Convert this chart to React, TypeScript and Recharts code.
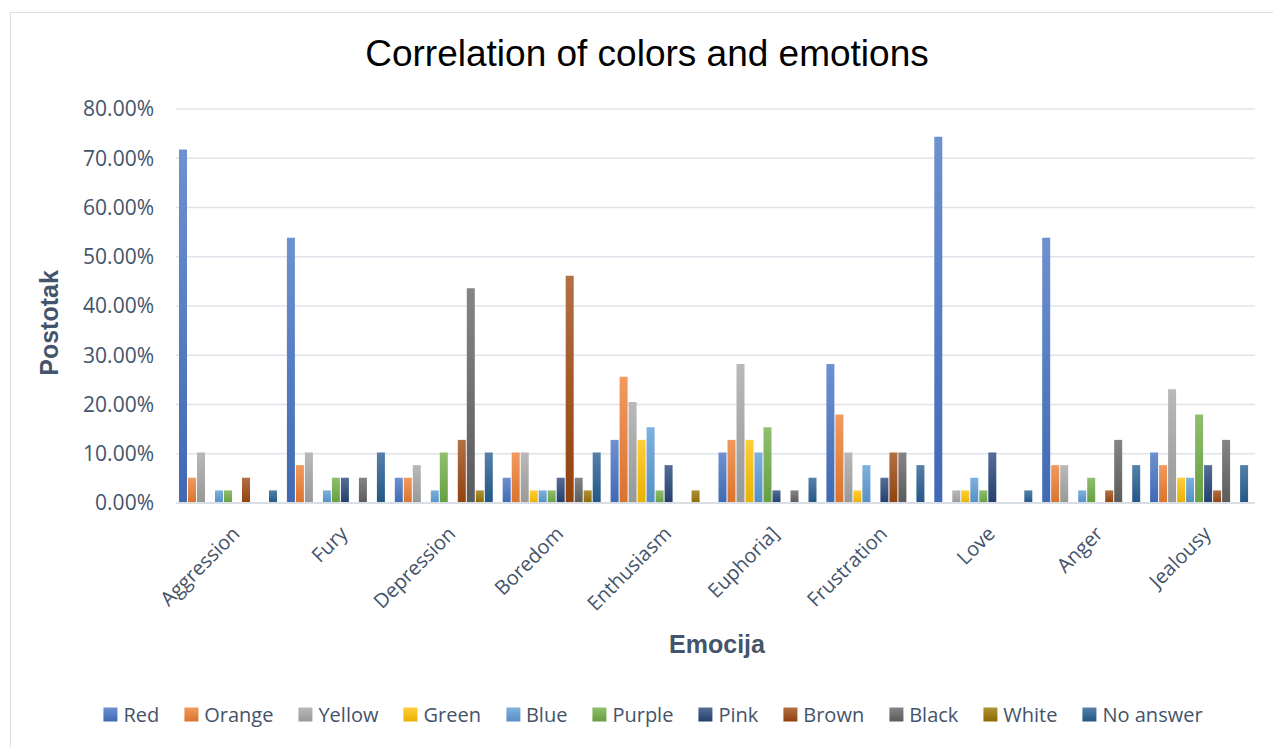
import React from 'react';
import { BarChart, Bar, XAxis, YAxis, CartesianGrid } from 'recharts';

const categories = [
  'Aggression',
  'Fury',
  'Depression',
  'Boredom',
  'Enthusiasm',
  'Euphoria]',
  'Frustration',
  'Love',
  'Anger',
  'Jealousy',
];

const red = [71.79, 53.85, 5.13, 5.13, 12.82, 10.26, 28.21, 74.36, 53.85, 10.26];
const orange = [5.13, 7.69, 5.13, 10.26, 25.64, 12.82, 17.95, 0, 7.69, 7.69];
const yellow = [10.26, 10.26, 7.69, 10.26, 20.51, 28.21, 10.26, 2.56, 7.69, 23.08];
const green = [0, 0, 0, 2.56, 12.82, 12.82, 2.56, 2.56, 0, 5.13];
const blue = [2.56, 2.56, 2.56, 2.56, 15.38, 10.26, 7.69, 5.13, 2.56, 5.13];
const purple = [2.56, 5.13, 10.26, 2.56, 2.56, 15.38, 0, 2.56, 5.13, 17.95];
const pink = [0, 5.13, 0, 5.13, 7.69, 2.56, 5.13, 10.26, 0, 7.69];
const brown = [5.13, 0, 12.82, 46.15, 0, 0, 10.26, 0, 2.56, 2.56];
const black = [0, 5.13, 43.59, 5.13, 0, 2.56, 10.26, 0, 12.82, 12.82];
const white = [0, 0, 2.56, 2.56, 2.56, 0, 0, 0, 0, 0];
const noAnswer = [2.56, 10.26, 10.26, 10.26, 0, 5.13, 7.69, 2.56, 7.69, 7.69];

const yTicks = [0, 10, 20, 30, 40, 50, 60, 70, 80];

const series = [
  { key: 'red', name: 'Red', values: red, color: '#4472C4' },
  { key: 'orange', name: 'Orange', values: orange, color: '#ED7D31' },
  { key: 'yellow', name: 'Yellow', values: yellow, color: '#A5A5A5' },
  { key: 'green', name: 'Green', values: green, color: '#FFC000' },
  { key: 'blue', name: 'Blue', values: blue, color: '#5B9BD5' },
  { key: 'purple', name: 'Purple', values: purple, color: '#70AD47' },
  { key: 'pink', name: 'Pink', values: pink, color: '#264478' },
  { key: 'brown', name: 'Brown', values: brown, color: '#9E480E' },
  { key: 'black', name: 'Black', values: black, color: '#636363' },
  { key: 'white', name: 'White', values: white, color: '#997300' },
  { key: 'noAnswer', name: 'No answer', values: noAnswer, color: '#255E91' },
];

const data = categories.map((name, i) => {
  const row: any = { name };
  series.forEach((s) => {
    row[s.key] = s.values[i];
  });
  return row;
});

// lighten / darken a hex colour
const mix = (hex: string, amt: number) => {
  const n = parseInt(hex.slice(1), 16);
  const ch = [(n >> 16) & 255, (n >> 8) & 255, n & 255].map((c) =>
    Math.round(amt >= 0 ? c + (255 - c) * amt : c * (1 + amt))
  );
  return `rgb(${ch.join(',')})`;
};

const TEXT = '#44546A';
const W = 1273;
const H = 747;
const PLOT_LEFT = 176;

const YTick = ({ y, payload }: any) => (
  <text
    x={PLOT_LEFT - 22}
    y={y}
    dy="0.35em"
    textAnchor="end"
    fill={TEXT}
    fontSize={21}
    fontFamily="'Open Sans', sans-serif"
  >
    {`${Number(payload.value).toFixed(2)}%`}
  </text>
);

const XTick = ({ x, y, payload }: any) => (
  <g transform={`translate(${x + 11},${y + 32})`}>
    <text
      x={0}
      y={0}
      textAnchor="end"
      transform="rotate(-45)"
      fill={TEXT}
      fontSize={20}
      fontFamily="'Open Sans', sans-serif"
    >
      {payload.value}
    </text>
  </g>
);

export default function App() {
  return (
    <div
      style={{
        position: 'absolute',
        left: 0,
        top: 0,
        width: W,
        height: H,
        overflow: 'hidden',
        background: '#fff',
      }}
    >
      <div
        style={{
          position: 'absolute',
          left: 10,
          top: 12,
          width: 1400,
          height: 900,
          border: '1.5px solid #D9DEE7',
        }}
      />
      <div style={{ position: 'absolute', left: 0, top: 0 }}>
        <BarChart
          width={W}
          height={H}
          data={data}
          margin={{ top: 109, right: 18, bottom: 124, left: 106 }}
          barCategoryGap={3}
          barGap={1}
        >
          <defs>
            {series.map((s) => (
              <linearGradient key={s.key} id={`g-${s.key}`} x1="0" y1="0" x2="0" y2="1">
                <stop offset="0%" stopColor={mix(s.color, 0.22)} />
                <stop offset="100%" stopColor={mix(s.color, -0.08)} />
              </linearGradient>
            ))}
          </defs>
          <CartesianGrid vertical={false} stroke="#E0E4EA" strokeWidth={1.5} />
          <XAxis
            dataKey="name"
            height={120}
            interval={0}
            tickLine={false}
            tickSize={0}
            tickMargin={0}
            axisLine={{ stroke: '#D9DDE4', strokeWidth: 2 }}
            tick={<XTick />}
          />
          <YAxis
            width={70}
            domain={[0, 80]}
            ticks={yTicks}
            axisLine={false}
            tickLine={false}
            tick={<YTick />}
          />
          {series.map((s) => (
            <Bar
              key={s.key}
              dataKey={s.key}
              name={s.name}
              fill={`url(#g-${s.key})`}
              isAnimationActive={false}
            />
          ))}
        </BarChart>
      </div>
      <div
        style={{
          position: 'absolute',
          left: 0,
          width: 1294,
          top: 33,
          textAlign: 'center',
          fontFamily: "'Liberation Sans', Arial, sans-serif",
          fontSize: 37,
          color: '#000',
          lineHeight: '42px',
        }}
      >
        Correlation of colors and emotions
      </div>
      <div
        style={{
          position: 'absolute',
          left: 49,
          top: 323,
          transform: 'translate(-50%, -50%) rotate(-90deg)',
          fontFamily: "'Liberation Sans', Arial, sans-serif",
          fontWeight: 'bold',
          fontSize: 25,
          color: TEXT,
          whiteSpace: 'nowrap',
        }}
      >
        Postotak
      </div>
      <div
        style={{
          position: 'absolute',
          left: 717,
          top: 644,
          transform: 'translate(-50%, -50%)',
          fontFamily: "'Liberation Sans', Arial, sans-serif",
          fontWeight: 'bold',
          fontSize: 25,
          color: TEXT,
          whiteSpace: 'nowrap',
        }}
      >
        Emocija
      </div>
      <div
        style={{
          position: 'absolute',
          left: 653,
          top: 714,
          transform: 'translate(-50%, -50%)',
          display: 'flex',
          gap: 25,
          alignItems: 'center',
          whiteSpace: 'nowrap',
          fontFamily: "'Open Sans', sans-serif",
          fontSize: 20,
          color: TEXT,
        }}
      >
        {series.map((s) => (
          <div key={s.key} style={{ display: 'flex', alignItems: 'center', gap: 6 }}>
            <span
              style={{
                display: 'inline-block',
                width: 14,
                height: 14,
                background: `linear-gradient(${mix(s.color, 0.22)}, ${mix(s.color, -0.08)})`,
              }}
            />
            <span>{s.name}</span>
          </div>
        ))}
      </div>
    </div>
  );
}
